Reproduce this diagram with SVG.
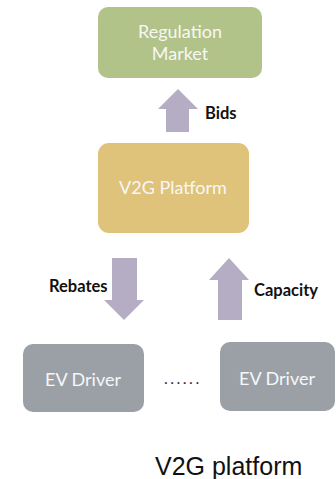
<svg xmlns="http://www.w3.org/2000/svg" width="336" height="479" viewBox="0 0 336 479">
<style>
.box text{font-family:Lato,"Open Sans",sans-serif;fill:#f7f7f7;font-size:18px;text-anchor:middle}
.lbl{font-family:Lato,"Open Sans",sans-serif;fill:#111;font-size:16.5px;font-weight:bold}
.arrow{fill:#b4adc3}
</style>
<rect width="336" height="479" fill="#fff"/>
<g id="regulation-market" class="box">
<rect x="98" y="7" width="164" height="71" rx="10" fill="#b1c388"/>
<text x="180" y="38">Regulation</text>
<text x="180" y="60">Market</text>
</g>
<g id="v2g-platform" class="box">
<rect x="98" y="143" width="151" height="90" rx="11" fill="#dfc37a"/>
<text x="173" y="194">V2G Platform</text>
</g>
<g id="ev-driver-1" class="box">
<rect x="23" y="344" width="121" height="68" rx="10" fill="#9ba0a7"/>
<text x="83" y="386">EV Driver</text>
</g>
<g id="ev-driver-2" class="box">
<rect x="220" y="342" width="115" height="69" rx="10" fill="#9ba0a7"/>
<text x="277" y="385">EV Driver</text>
</g>
<g id="connectors">
<polygon class="arrow" points="178,89 198,109 189,109 189,132 166,132 166,109 158,109"/>
<polygon class="arrow" points="112,258 137,258 137,300 144,300 124,320 104,300 112,300"/>
<polygon class="arrow" points="229,258 249,280 242,280 242,320 218,320 218,280 209,280"/>
</g>
<text class="lbl" x="205" y="119">Bids</text>
<text class="lbl" x="49" y="292">Rebates</text>
<text class="lbl" x="254" y="296">Capacity</text>
<text x="164" y="384" font-family="Lato,sans-serif" font-size="16" letter-spacing="2.5" fill="#333">......</text>
<text x="155" y="475" font-family="'Liberation Sans',Arial,sans-serif" font-size="25" fill="#111">V2G platform</text>
</svg>
